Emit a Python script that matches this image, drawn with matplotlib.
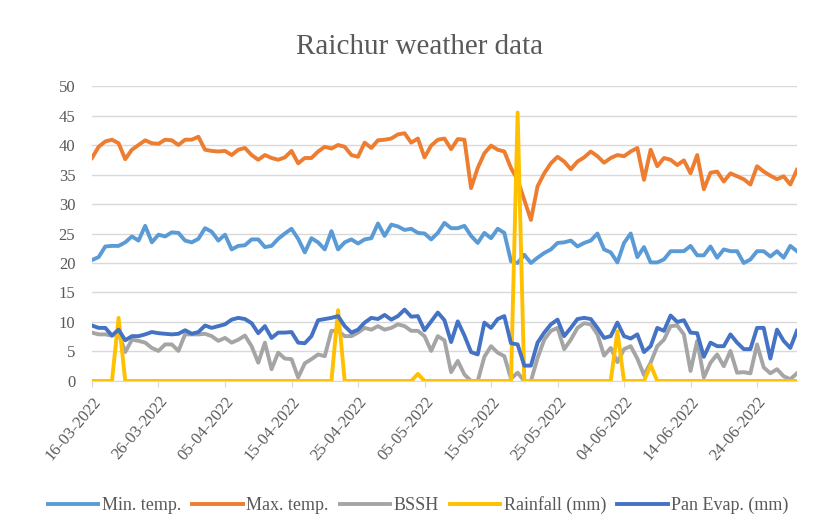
import numpy as np
import pandas as pd
import matplotlib
matplotlib.use('Agg')
import matplotlib.pyplot as plt

plt.rcParams['font.family'] = ['Liberation Serif', 'DejaVu Serif']

# daily data, 16-03-2022 .. 30-06-2022
dates = pd.date_range('2022-03-16', '2022-06-30', freq='D')

min_temp = [20.5, 21.0, 22.8, 22.9, 22.9, 23.5, 24.5, 23.8, 26.3, 23.5,
            24.8, 24.5, 25.2, 25.1, 23.8, 23.5, 24.1, 25.9, 25.3, 23.8,
            24.8, 22.3, 22.9, 23.0, 24.0, 24.0, 22.7, 22.9, 24.1, 25.0,
            25.8, 24.1, 21.8, 24.2, 23.5, 22.3, 25.4, 22.3, 23.5, 24.0,
            23.3, 24.0, 24.2, 26.7, 24.6, 26.5, 26.2, 25.6, 25.8, 25.1,
            25.0, 24.0, 25.1, 26.8, 25.9, 25.9, 26.3, 24.6, 23.4, 25.1,
            24.2, 25.8, 25.1, 20.3, 20.0, 21.4, 20.0, 20.9, 21.7, 22.3,
            23.4, 23.5, 23.8, 22.8, 23.4, 23.8, 25.0, 22.3, 21.8, 20.1,
            23.4, 25.0, 21.0, 22.7, 20.1, 20.1, 20.6, 22.0, 22.0, 22.0,
            22.9, 21.3, 21.3, 22.8, 20.9, 22.3, 22.0, 22.0, 20.0, 20.6,
            22.0, 22.0, 21.1, 22.0, 20.9, 22.9, 22.0]

max_temp = [37.8, 39.7, 40.6, 40.9, 40.3, 37.6, 39.2, 40.0, 40.8, 40.3,
            40.2, 40.9, 40.8, 40.0, 40.9, 40.9, 41.4, 39.2, 39.0, 38.9,
            39.0, 38.3, 39.2, 39.5, 38.3, 37.5, 38.3, 37.8, 37.5, 37.9,
            39.0, 36.9, 37.8, 37.8, 38.9, 39.7, 39.4, 40.0, 39.7, 38.3,
            38.0, 40.4, 39.5, 40.8, 40.9, 41.1, 41.8, 42.0, 40.4, 41.1,
            37.9, 39.9, 40.9, 41.1, 39.3, 41.0, 40.9, 32.7, 36.1, 38.6,
            39.9, 39.2, 38.9, 36.1, 34.1, 30.7, 27.3, 33.0, 35.2, 36.9,
            38.0, 37.2, 35.9, 37.2, 37.9, 38.9, 38.1, 37.0, 37.8, 38.3,
            38.1, 38.9, 39.5, 34.1, 39.2, 36.4, 37.8, 37.5, 36.6, 37.4,
            35.2, 38.3, 32.5, 35.3, 35.5, 33.8, 35.2, 34.7, 34.2, 33.3,
            36.4, 35.5, 34.8, 34.2, 34.7, 33.3, 35.8]

bssh = [8.2, 7.9, 7.9, 7.7, 8.1, 4.9, 7.0, 6.8, 6.5, 5.6,
        5.1, 6.2, 6.2, 5.1, 7.9, 7.9, 7.9, 8.0, 7.6, 6.8,
        7.3, 6.5, 7.0, 7.7, 5.9, 3.1, 6.5, 2.0, 4.8, 3.8,
        3.7, 0.6, 3.0, 3.7, 4.5, 4.2, 8.5, 8.5, 7.6, 7.6,
        8.2, 9.0, 8.7, 9.3, 8.7, 9.0, 9.6, 9.3, 8.5, 8.5,
        7.6, 5.1, 7.6, 6.9, 1.5, 3.4, 1.1, 0.0, 0.0, 4.1,
        5.9, 4.8, 4.2, 0.4, 1.4, 0.0, 0.0, 3.9, 7.0, 8.5,
        9.0, 5.4, 7.0, 9.0, 9.8, 9.6, 7.9, 4.3, 5.6, 3.2,
        5.4, 5.9, 3.8, 1.0, 3.1, 5.9, 7.0, 9.3, 9.4, 7.9,
        1.7, 6.8, 0.6, 3.1, 4.5, 2.5, 5.1, 1.4, 1.5, 1.3,
        6.2, 2.3, 1.3, 2.0, 0.8, 0.3, 1.3]

rainfall = [0.0] * 107
rain_days = {4: 10.7, 37: 12.0, 49: 1.2, 64: 45.5, 79: 8.4, 84: 2.7}
for d, v in rain_days.items():
    rainfall[d] = v

pan_evap = [9.4, 9.0, 9.0, 7.7, 8.7, 6.9, 7.6, 7.6, 7.9, 8.3,
            8.1, 8.0, 7.9, 8.0, 8.6, 8.0, 8.3, 9.4, 9.0, 9.3,
            9.6, 10.4, 10.7, 10.5, 9.8, 8.1, 9.3, 7.3, 8.2, 8.2,
            8.3, 6.5, 6.4, 7.6, 10.3, 10.5, 10.7, 11.0, 9.3, 8.2,
            8.7, 9.9, 10.7, 10.5, 11.2, 10.4, 11.0, 12.1, 10.9, 11.0,
            8.6, 10.1, 11.6, 10.3, 6.6, 10.1, 7.7, 4.9, 4.5, 9.9,
            9.0, 10.5, 11.0, 6.4, 6.2, 2.6, 2.6, 6.5, 8.2, 9.6,
            10.4, 7.6, 9.0, 10.5, 10.7, 10.5, 9.0, 7.3, 7.6, 9.9,
            7.6, 7.2, 7.9, 4.9, 5.9, 9.0, 8.5, 11.1, 10.0, 10.3,
            8.2, 8.1, 4.1, 6.5, 5.9, 5.9, 7.9, 6.5, 5.4, 5.4,
            9.0, 9.0, 3.8, 8.7, 6.8, 5.6, 8.5]

series = [("Min. temp.", min_temp, '#5B9BD5'),
          ("Max. temp.", max_temp, '#ED7D31'),
          ("BSSH", bssh, '#A5A5A5'),
          ("Rainfall (mm)", rainfall, '#FFC000'),
          ("Pan Evap. (mm)", pan_evap, '#4472C4')]

tick_pos = np.arange(0, len(dates), 10)
tick_labels = [dates[i].strftime('%d-%m-%Y') for i in tick_pos]

fig = plt.figure(figsize=(8.25, 5.29), dpi=100)
ax = fig.add_axes([0.1115, 0.2798, 0.8545, 0.5576])

x = np.arange(len(dates))
for name, vals, col in series:
    ax.plot(x, vals, color=col, lw=2.8, label=name, solid_joinstyle='round')

ax.set_xlim(0, len(dates) - 1)
ax.set_ylim(0, 50)
ax.set_yticks(np.arange(0, 51, 5))
ax.yaxis.grid(True, color='#D9D9D9', lw=1)
ax.set_axisbelow(True)
for s in ['top', 'right', 'left']:
    ax.spines[s].set_visible(False)
ax.spines['bottom'].set_color('#D9D9D9')
ax.tick_params(axis='y', length=0, labelsize=12, colors='#595959', pad=12)
ax.set_xticks(tick_pos)
ax.set_xticklabels(tick_labels, rotation=50, ha='right', rotation_mode='anchor',
                   fontsize=12, color='#595959')
ax.tick_params(axis='x', length=4, color='#D9D9D9', pad=5)

fig.text(0.509, 0.912, "Raichur weather data", ha='center', va='center',
         fontsize=21, color='#595959')

fig.legend(loc='center', bbox_to_anchor=(0.507, 0.045), ncol=5, frameon=False,
           fontsize=13, handlelength=2.8, handletextpad=0.2, columnspacing=0.6,
           labelcolor='#595959')

fig.savefig('out.png', dpi=100)
